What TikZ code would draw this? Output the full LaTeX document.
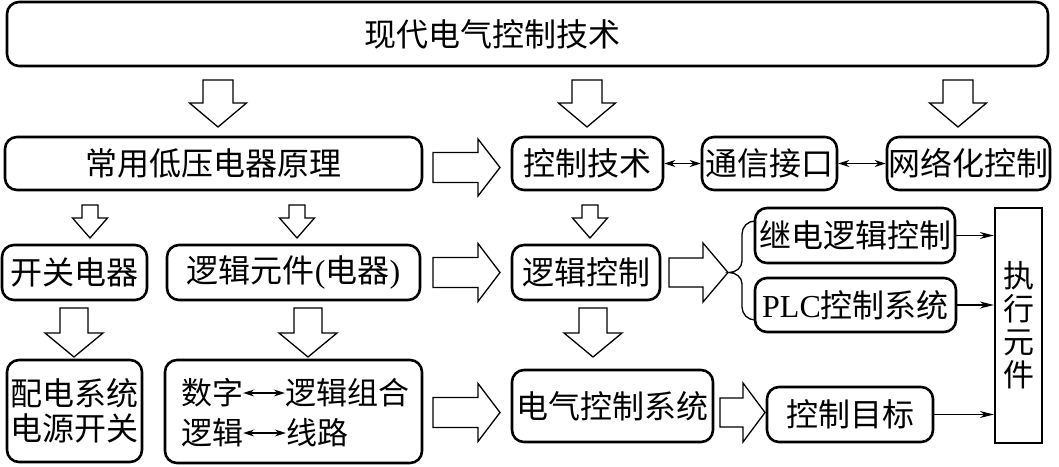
\documentclass[tikz,border=0pt]{standalone}
\usepackage{fontspec}
\setmainfont{Liberation Serif}
\newfontfamily\cjk{Noto Sans CJK SC}
\newfontfamily\latin{Liberation Serif}
\usetikzlibrary{arrows.meta}
\begin{document}
\begin{tikzpicture}[x=1pt,y=1pt,
  box/.style={draw, line width=2.6pt, rounded corners=12pt, inner sep=0pt,
    font=\cjk\fontsize{32}{35}\selectfont, align=center},
  sqbox/.style={draw, line width=2.4pt, inner sep=0pt,
    font=\cjk\fontsize{31}{33}\selectfont, align=center},
  txt/.style={inner sep=0pt, font=\cjk\fontsize{31}{34}\selectfont},
  hollow/.style={draw, line width=1.3pt, fill=white, line join=miter},
  link/.style={line width=1.2pt, -{Stealth[length=14pt,width=7pt]}},
  dbl/.style={line width=1.3pt, {Stealth[length=11pt,width=7pt]}-{Stealth[length=11pt,width=7pt]}},
  pics/rarr/.style n args={4}{code={\draw[hollow] (0,#3)--(#1-#2,#3)--(#1-#2,#4)--(#1,0)--(#1-#2,-#4)--(#1-#2,-#3)--(0,-#3)--cycle;}},
  pics/darr/.style n args={4}{code={\draw[hollow] (-#3,0)--(-#3,-#1+#2)--(-#4,-#1+#2)--(0,-#1)--(#4,-#1+#2)--(#3,-#1+#2)--(#3,0)--cycle;}},
]
\useasboundingbox (0,0) rectangle (1059,-466);

% boxes
\node[box, minimum width=1041pt, minimum height=64pt] (top) at (527.5,-34) {现代电气控制技术\hspace*{70pt}};
\node[box, minimum width=417pt, minimum height=53pt] (cyyq) at (213.5,-163.5) {常用低压电器原理};
\node[box, minimum width=151pt, minimum height=53pt] (kzjs) at (587.5,-163.5) {控制技术};
\node[box, minimum width=135pt, minimum height=53pt] (txjk) at (769.5,-163.5) {通信接口};
\node[box, minimum width=163pt, minimum height=53pt] (wlh) at (968.5,-163.5) {网络化控制};

\node[box, minimum width=145pt, minimum height=55pt] (kgdq) at (74.5,-272.5) {开关电器};
\node[box, minimum width=253pt, minimum height=55pt] (ljyj) at (293.5,-272.5) {逻辑元件{\latin(}电器{\latin)}};
\node[box, minimum width=148pt, minimum height=55pt] (ljkz) at (586,-272.5) {逻辑控制};
\node[box, minimum width=200pt, minimum height=55pt] (jdlj) at (855,-235.5) {继电逻辑控制};
\node[box, minimum width=201pt, minimum height=54pt] (plc) at (855.5,-305) {{\latin PLC}控制系统};
\node[sqbox, minimum width=47pt, minimum height=235pt] (zxyj) at (1018.5,-325.5) {执\\行\\元\\件};

\node[box, minimum width=135pt, minimum height=102pt] (pdxt) at (74.5,-411) {配电系统\\电源开关};
\node[box, minimum width=257pt, minimum height=103pt] (szlj) at (293.5,-411.5) {};
\node[box, minimum width=201pt, minimum height=72pt] (dqkz) at (612.5,-406) {电气控制系统};
\node[box, minimum width=166pt, minimum height=55pt] (kzmb) at (850,-414.5) {控制目标};

% texts inside the digital/logic box
\node[txt] (sz) at (212,-393) {数字};
\node[txt] (ljzh) at (347,-393) {逻辑组合};
\node[txt] (lj) at (212,-433) {逻辑};
\node[txt] (xl) at (317,-433) {线路};
\draw[dbl] (sz.east) -- (ljzh.west);
\draw[dbl] (lj.east) -- (xl.west);

% hollow block arrows
\pic at (218,-80) {darr={47}{24}{15}{28.5}};
\pic at (587,-80) {darr={47}{24}{15}{28.5}};
\pic at (958,-80) {darr={47}{24}{15}{28.5}};
\pic at (433,-167.5) {rarr={67}{22}{15}{28.5}};

\pic at (90,-205) {darr={33}{20}{8}{17.5}};
\pic at (297,-205) {darr={33}{20}{8}{17.5}};
\pic at (590,-205) {darr={33}{20}{8}{17.5}};

\pic at (433,-272.5) {rarr={67}{22}{15}{29}};
\pic at (669,-272.5) {rarr={59}{25}{14.5}{29.5}};

\pic at (74,-308) {darr={49}{24}{14}{29}};
\pic at (308,-308) {darr={49}{24}{14}{29}};
\pic at (593,-308) {darr={49}{24}{14}{29}};

\pic at (433,-412.5) {rarr={67}{22}{15}{29}};
\pic at (720,-412.5) {rarr={45}{22}{14.5}{29.5}};

% brace
\draw[line width=1.3pt] (755,-221) to[out=180,in=90] (742,-234) -- (742,-261)
  to[out=-90,in=0] (729,-272.5) to[out=0,in=90] (742,-284) -- (742,-307)
  to[out=-90,in=180] (755,-320);

% thin connectors
\draw[dbl] (kzjs.east) -- (txjk.west);
\draw[dbl] (txjk.east) -- (wlh.west);
\draw[link] (jdlj.east) -- (jdlj.east -| zxyj.west);
\draw[link] (plc.east) -- (plc.east -| zxyj.west);
\draw[link] (kzmb.east) -- (kzmb.east -| zxyj.west);
\end{tikzpicture}
\end{document}
